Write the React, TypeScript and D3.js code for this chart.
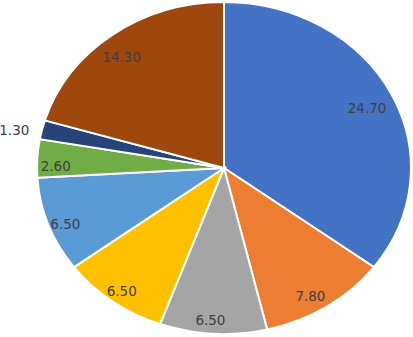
import React from 'react';
import * as d3 from 'd3';

const labels = ['24.70', '7.80', '6.50', '6.50', '6.50', '2.60', '1.30', '14.30'];
const values = [24.7, 7.8, 6.5, 6.5, 6.5, 2.6, 1.3, 14.3];
const colors = ['#4472C4', '#ED7D31', '#A5A5A5', '#FFC000', '#5B9BD5', '#70AD47', '#264478', '#9E480E'];

const width = 413;
const height = 337;
const cx = 224;
const cy = 168;
const rx = 187;
const ry = 166;

export default function App() {
  const pie = d3.pie<number>().sort(null).value((d) => d);
  const arcs = pie(values);
  const arc = d3.arc<d3.PieArcDatum<number>>().innerRadius(0).outerRadius(1);
  const labelArc = d3.arc<d3.PieArcDatum<number>>().innerRadius(0.88).outerRadius(0.88);
  const outArc = d3.arc<d3.PieArcDatum<number>>().innerRadius(1.07).outerRadius(1.07);

  return (
    <svg
      width={width}
      height={height}
      style={{ position: 'absolute', left: 0, top: 0, background: '#fff' }}
    >
      <g transform={`translate(${cx},${cy}) scale(${rx},${ry})`}>
        {arcs.map((a, i) => (
          <path
            key={i}
            d={arc(a) || ''}
            fill={colors[i]}
            stroke="#fff"
            strokeWidth={2}
            vectorEffect="non-scaling-stroke"
          />
        ))}
      </g>
      <g
        fontFamily="DejaVu Sans, sans-serif"
        fontSize={13.5}
        fill="#404040"
        dominantBaseline="central"
      >
        {arcs.map((a, i) => {
          const small = a.endAngle - a.startAngle < 0.15;
          const [x, y] = (small ? outArc : labelArc).centroid(a);
          return (
            <text
              key={i}
              x={cx + x * rx + (small ? 0 : -4)}
              y={cy + y * ry + (small ? 3 : 6)}
              textAnchor={small ? 'end' : 'middle'}
            >
              {labels[i]}
            </text>
          );
        })}
      </g>
    </svg>
  );
}
